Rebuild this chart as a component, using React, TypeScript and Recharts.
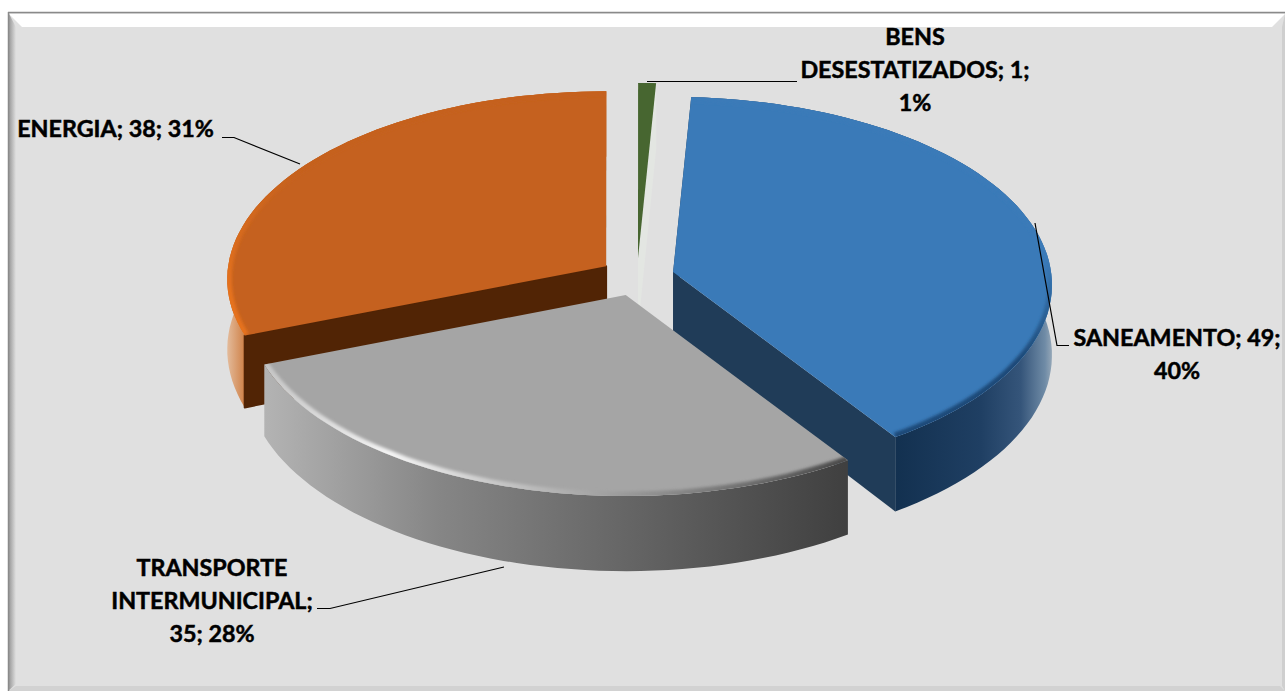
import { PieChart, Pie } from "recharts";

const CATEGORIES = ["ENERGIA", "BENS DESESTATIZADOS", "SANEAMENTO", "TRANSPORTE INTERMUNICIPAL"];
const VALUES = [38, 1, 49, 35];
const TOP_COLORS = ["#c5611f", "#476630", "#3a7ab8", "#a5a5a5"];
const CUT_COLORS = ["#512405", "#e3e6e2", "#203c58", "#777777"];
// word index after which each label wraps
const LABEL_BREAKS = [[], [0, 2], [1], [0, 1]];

const LABEL_LAYOUT = [
  { x: 115.5, y: 137, line: "222,137.5 234,137.5 300,164" },
  { x: 915, y: 45, line: "647,81.5 797,81.5" },
  { x: 1177, y: 346, line: "1035,223 1057,345.5 1069,345.5" },
  { x: 212, y: 576, line: "317,608.5 330,608.5 504,567" },
];

const WIDTH = 1285;
const HEIGHT = 691;
const CX = 637;
const CY = 277;
const RADIUS = 378;
const Y_RADIUS = 187;
const PERSPECTIVE = 0.069;
const DEPTH = 70;
const EXPLODE_X = 37.4;
const EXPLODE_Y = 19;
const FIRST_ANGLE = 201.2;

const data = CATEGORIES.map((name, i) => ({ name, value: VALUES[i], fill: TOP_COLORS[i] }));

function project(cx: number, cy: number, r: number, deg: number, drop = 0) {
  const t = (deg * Math.PI) / 180;
  const u = Math.sin(t);
  const v = -Math.cos(t);
  const s = 1 / (1 - PERSPECTIVE * v);
  return [cx + r * u * s, cy + (r / RADIUS) * Y_RADIUS * v * s + drop * s];
}

function arcPoints(cx: number, cy: number, r: number, a0: number, a1: number, drop = 0) {
  const steps = Math.max(2, Math.ceil(Math.abs(a1 - a0) / 2));
  const pts: number[][] = [];
  for (let i = 0; i <= steps; i++) pts.push(project(cx, cy, r, a0 + ((a1 - a0) * i) / steps, drop));
  return pts;
}

const toPath = (pts: number[][], close = true) =>
  "M" + pts.map(p => `${p[0].toFixed(1)},${p[1].toFixed(1)}`).join("L") + (close ? "Z" : "");

function PieSlice(props: any) {
  const { cx, cy, outerRadius, startAngle, endAngle, name } = props;
  const i = CATEGORIES.indexOf(name);
  const a0 = 90 - startAngle;
  const a1 = 90 - endAngle;
  const mid = ((a0 + a1) / 2) * (Math.PI / 180);
  const ax = cx + EXPLODE_X * Math.sin(mid);
  const ay = cy - EXPLODE_Y * Math.cos(mid);
  const arc = arcPoints(ax, ay, outerRadius, a0, a1);
  const low = arcPoints(ax, ay, outerRadius, a0, a1, DEPTH);
  const first = arc[0];
  const last = arc[arc.length - 1];
  const apexLow = [ax, ay + DEPTH];
  const lowFirst = low[0];
  const lowLast = low[low.length - 1];
  const top = toPath([[ax, ay], ...arc]);
  return (
    <g>
      <path d={toPath([...arc, ...[...low].reverse()])} fill={`url(#wall${i})`} />
      <path
        d={toPath([[ax, ay], first, lowFirst, apexLow])}
        fill={CUT_COLORS[i]}
        stroke={i === 0 ? CUT_COLORS[i] : "none"}
        strokeWidth={2}
        strokeLinejoin="round"
        opacity={i === 3 ? 0 : 1}
      />
      <path d={toPath([[ax, ay], last, lowLast, apexLow])} fill={CUT_COLORS[i]} opacity={i === 3 ? 0 : 1} />
      <clipPath id={`topClip${i}`}>
        <path d={top} />
      </clipPath>
      <path d={top} fill={TOP_COLORS[i]} />
      <g clipPath={`url(#topClip${i})`}>
        <path d={toPath(arc, false)} fill="none" stroke={`url(#rim${i})`} strokeWidth={9} filter="url(#soft)" />
      </g>
    </g>
  );
}

function SliceLabel(props: any) {
  const { index, name, value, percent } = props;
  const i = index ?? CATEGORIES.indexOf(name);
  const layout = LABEL_LAYOUT[i];
  const words = `${CATEGORIES[i]}; ${VALUES[i]}; ${Math.round((percent ?? value / 123) * 100)}%`.split(" ");
  const breaks = LABEL_BREAKS[i];
  const lines: string[] = [];
  let cur: string[] = [];
  words.forEach((w, k) => {
    cur.push(w);
    if (breaks.includes(k) || k === words.length - 1) {
      lines.push(cur.join(" "));
      cur = [];
    }
  });
  return (
    <g>
      <polyline points={layout.line} fill="none" stroke="#000" strokeWidth={1.2} />
      <text textAnchor="middle" fontFamily="Lato" fontWeight={700} fontSize={23.3} fill="#000" stroke="#000" strokeWidth={0.5}>
        {lines.map((l, k) => (
          <tspan key={k} x={layout.x} y={layout.y + k * 33}>
            {l}
          </tspan>
        ))}
      </text>
    </g>
  );
}

export default function App() {
  return (
    <div style={{ position: "absolute", left: 0, top: 0, width: WIDTH, height: HEIGHT, background: "#fff", overflow: "hidden" }}>
      <PieChart width={WIDTH} height={HEIGHT} margin={{ top: 0, right: 0, bottom: 0, left: 0 }}>
        <defs>
          <filter id="soft" x="-10%" y="-10%" width="120%" height="120%">
            <feGaussianBlur stdDeviation="1.6" />
          </filter>
          <linearGradient id="leftBevel" x1="0" y1="0" x2="1" y2="0">
            <stop offset="0" stopColor="#8f8f8f" />
            <stop offset="1" stopColor="#e0e0e0" />
          </linearGradient>
          <linearGradient id="wall0" gradientUnits="userSpaceOnUse" x1="225" y1="0" x2="250" y2="0">
            <stop offset="0" stopColor="#e6c2a5" />
            <stop offset="1" stopColor="#c9702f" />
          </linearGradient>
          <linearGradient id="wall1" gradientUnits="userSpaceOnUse" x1="630" y1="0" x2="660" y2="0">
            <stop offset="0" stopColor="#e3e6e2" />
            <stop offset="1" stopColor="#e3e6e2" />
          </linearGradient>
          <linearGradient id="wall2" gradientUnits="userSpaceOnUse" x1="892" y1="0" x2="1053" y2="0">
            <stop offset="0" stopColor="#12304f" />
            <stop offset="0.55" stopColor="#1f3f63" />
            <stop offset="0.8" stopColor="#35557a" />
            <stop offset="0.95" stopColor="#6f8ba6" />
            <stop offset="1" stopColor="#9aabba" />
          </linearGradient>
          <linearGradient id="wall3" gradientUnits="userSpaceOnUse" x1="262" y1="0" x2="845" y2="0">
            <stop offset="0" stopColor="#b4b4b4" />
            <stop offset="0.3" stopColor="#868686" />
            <stop offset="0.65" stopColor="#636363" />
            <stop offset="1" stopColor="#404040" />
          </linearGradient>
          <linearGradient id="rim0" gradientUnits="userSpaceOnUse" x1="0" y1="170" x2="0" y2="290">
            <stop offset="0" stopColor="#c5611f" />
            <stop offset="1" stopColor="#e6721f" />
          </linearGradient>
          <linearGradient id="rim1" gradientUnits="userSpaceOnUse" x1="630" y1="0" x2="660" y2="0">
            <stop offset="0" stopColor="#476630" />
            <stop offset="1" stopColor="#476630" />
          </linearGradient>
          <linearGradient id="rim2" gradientUnits="userSpaceOnUse" x1="0" y1="260" x2="0" y2="360">
            <stop offset="0" stopColor="#3a7ab8" />
            <stop offset="1" stopColor="#1d4a78" />
          </linearGradient>
          <linearGradient id="rim3" gradientUnits="userSpaceOnUse" x1="262" y1="0" x2="845" y2="0">
            <stop offset="0" stopColor="#c4c4c4" />
            <stop offset="0.22" stopColor="#f4f4f4" />
            <stop offset="0.4" stopColor="#c8c8c8" />
            <stop offset="0.7" stopColor="#8a8a8a" />
            <stop offset="1" stopColor="#4a4a4a" />
          </linearGradient>
        </defs>
        <rect x={8} y={12} width={1277} height={679} fill="#e0e0e0" />
        <polygon points="9,14 1285,14 1272,27 22,27" fill="#ffffff" />
        <polygon points="8,12 16,27 16,684 8,691" fill="url(#leftBevel)" />
        <polygon points="8,691 16,686 1280,686 1285,691" fill="#d2d2d2" />
        <polygon points="1282,27 1285,14 1285,691 1282,686" fill="#cfcfcf" />
        <line x1={8} y1={12.5} x2={1285} y2={12.5} stroke="#8a8a8a" strokeWidth={1.5} />
        <line x1={8.5} y1={12} x2={8.5} y2={691} stroke="#8a8a8a" strokeWidth={1.5} />
        <Pie
          data={data}
          dataKey="value"
          nameKey="name"
          cx={CX}
          cy={CY}
          innerRadius={0}
          outerRadius={RADIUS}
          startAngle={FIRST_ANGLE}
          endAngle={FIRST_ANGLE - 360}
          stroke="none"
          isAnimationActive={false}
          shape={PieSlice}
          activeShape={PieSlice}
          inactiveShape={PieSlice}
          label={SliceLabel}
          labelLine={false}
        />
      </PieChart>
    </div>
  );
}
